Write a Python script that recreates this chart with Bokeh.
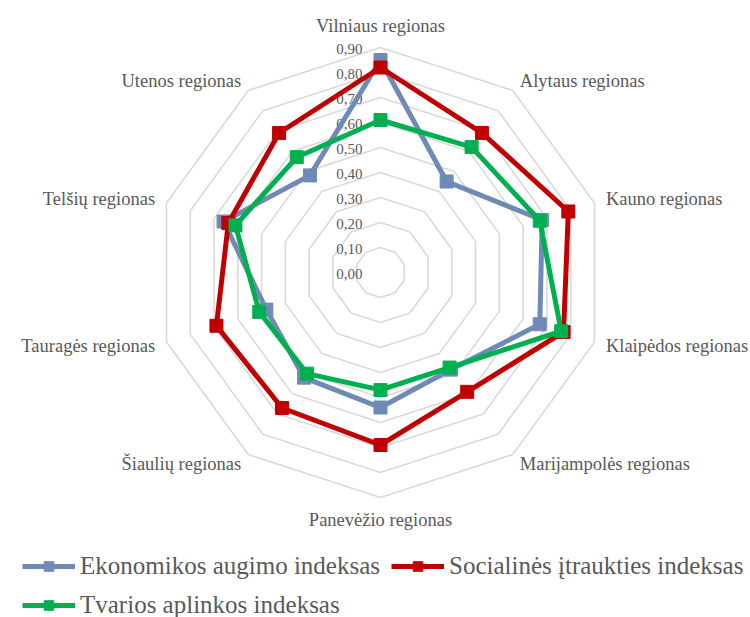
import numpy as np
from bokeh.plotting import figure
from bokeh.models import Legend, LegendItem, ColumnDataSource, Range1d
from bokeh.core.properties import value
from bokeh.embed import file_html
from bokeh.resources import INLINE

categories = ["Vilniaus regionas", "Alytaus regionas", "Kauno regionas",
              "Klaipėdos regionas", "Marijampolės regionas", "Panevėžio regionas",
              "Šiaulių regionas", "Tauragės regionas", "Telšių regionas", "Utenos regionas"]
ekonomikos = [0.85, 0.45, 0.68, 0.67, 0.48, 0.54, 0.52, 0.48, 0.66, 0.48]
socialines = [0.82, 0.69, 0.79, 0.77, 0.59, 0.69, 0.67, 0.69, 0.64, 0.69]
tvarios = [0.61, 0.62, 0.67, 0.76, 0.47, 0.47, 0.50, 0.51, 0.61, 0.57]
series_names = ["Ekonomikos augimo indeksas", "Socialinės įtraukties indeksas",
                "Tvarios aplinkos indeksas"]
series_colors = ["#6F8AB7", "#C00000", "#00B050"]
tick_values = [0.0, 0.1, 0.2, 0.3, 0.4, 0.5, 0.6, 0.7, 0.8, 0.9]
tick_labels = ["0,00", "0,10", "0,20", "0,30", "0,40", "0,50", "0,60", "0,70", "0,80", "0,90"]

W, H = 750, 617
PX = 250.0          # pixels per data unit
CX, CY = 380, 272   # centre of radar in canvas pixels (from top-left)
FONT_NAME = "Liberation Serif"
FONT = value(FONT_NAME)
GREY = "#595959"

n = len(categories)
ang = np.arange(n) * 2 * np.pi / n   # clockwise from top
sx, sy = np.sin(ang), np.cos(ang)

p = figure(width=W, height=H, output_backend="svg", toolbar_location=None,
           x_range=Range1d(-CX / PX, (W - CX) / PX),
           y_range=Range1d(-(H - CY) / PX, CY / PX),
           x_axis_location=None, y_axis_location=None,
           min_border=0, outline_line_color=None)
p.xgrid.visible = False
p.ygrid.visible = False
p.background_fill_color = "white"
p.border_fill_color = "white"

# rings
ring_xs, ring_ys = [], []
for t in tick_values[1:]:
    ring_xs.append(list(np.append(sx * t, sx[0] * t)))
    ring_ys.append(list(np.append(sy * t, sy[0] * t)))
p.multi_line(ring_xs, ring_ys, line_color="#D9D9D9", line_width=1.6)

# tick labels
p.text(x=[0] * len(tick_values), y=tick_values, text=tick_labels, x_offset=-18, y_offset=1,
       text_align="right", text_baseline="middle", text_font=FONT,
       text_font_size="15px", text_color=GREY)

# category labels
rl = 0.9 + 12 / PX
groups = {}
for i, c in enumerate(categories):
    if abs(sx[i]) < 0.1:
        align = "center"
        base = "bottom" if sy[i] > 0 else "top"
    else:
        align = "left" if sx[i] > 0 else "right"
        base = "middle"
    groups.setdefault((align, base), []).append(i)
for (align, base), idx in groups.items():
    p.text(x=[sx[i] * rl for i in idx], y=[sy[i] * rl for i in idx],
           text=[categories[i] for i in idx], text_align=align, text_baseline=base,
           text_font=FONT, text_font_size="18.5px", text_color=GREY)

# series
items = []
for name, vals, col in zip(series_names, [ekonomikos, socialines, tvarios], series_colors):
    v = np.array(vals)
    xs, ys = sx * v, sy * v
    lr = p.line(list(np.append(xs, xs[0])), list(np.append(ys, ys[0])),
                line_color=col, line_width=5, line_join="miter")
    sr = p.scatter(list(xs), list(ys), marker="square", size=13,
                   fill_color=col, line_color=col)
    items.append(LegendItem(label=name, renderers=[lr, sr]))

legend = Legend(items=items, orientation="horizontal", ncols=2,
                location=(22, -2), padding=0, margin=0, spacing=11,
                glyph_width=53, glyph_height=24, label_standoff=5,
                label_text_font=FONT_NAME, label_text_font_size="25px",
                label_text_color=GREY, border_line_color=None,
                background_fill_alpha=0)
p.add_layout(legend)

open("out.html", "w").write(file_html(p, INLINE))
